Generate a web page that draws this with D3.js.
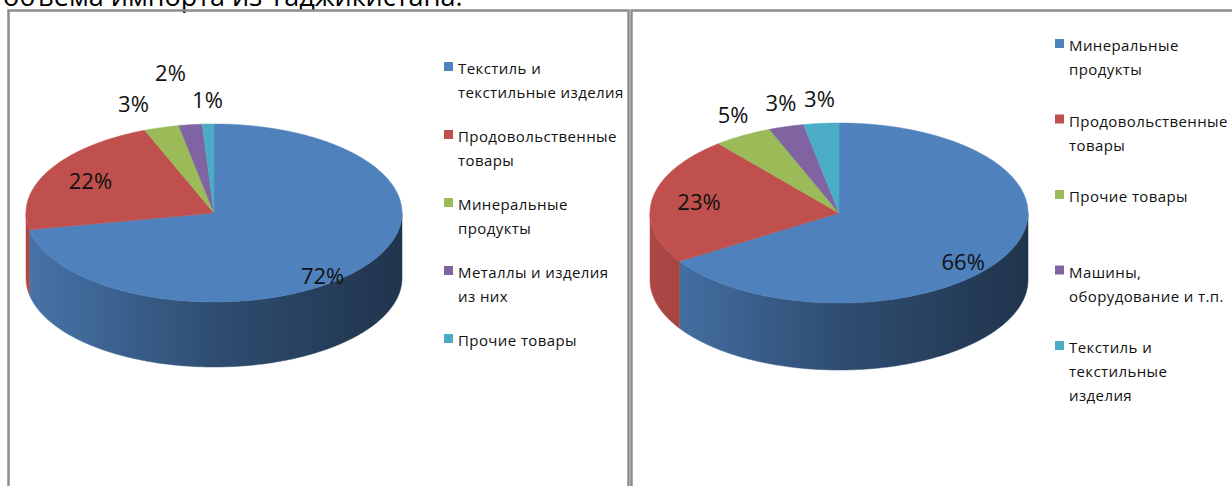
<!DOCTYPE html>
<html>
<head>
<meta charset="utf-8">
<script src="https://cdn.jsdelivr.net/npm/d3@7"></script>
<style>
  body { margin: 0; background: #fff; }
  svg { display: block; }
</style>
</head>
<body>
<svg id="chart" width="1232" height="486"></svg>
<script>

// data
var pageTitle = 'объема импорта из Таджикистана.';

var leftLegend = [
    ['Текстиль и', 'текстильные изделия'],
    ['Продовольственные', 'товары'],
    ['Минеральные', 'продукты'],
    ['Металлы и изделия', 'из них'],
    ['Прочие товары']
];
var leftValues = [72, 22, 3, 2, 1];

var rightLegend = [
    ['Минеральные', 'продукты'],
    ['Продовольственные', 'товары'],
    ['Прочие товары'],
    ['Машины,', 'оборудование и т.п.'],
    ['Текстиль и', 'текстильные', 'изделия']
];
var rightValues = [66, 23, 5, 3, 3];

var sliceColors = ['#4F81BD', '#C0504D', '#9BBB59', '#8064A2', '#4BACC6'];


var svg = d3.select('#chart');
var defs = svg.append('defs');

// caption line above the charts, cut off by the page top like in the scan
svg.append('text')
    .attr('x', 3)
    .attr('y', 6)
    .attr('font-family', 'Open Sans')
    .attr('font-size', 27)
    .attr('fill', '#000')
    .text(pageTitle);

// chart frames
svg.append('rect')
    .attr('x', 8.5).attr('y', 10.5)
    .attr('width', 620).attr('height', 600)
    .attr('fill', 'none').attr('stroke', '#8c8c8c').attr('stroke-width', 2.5);

svg.append('rect')
    .attr('x', 631.5).attr('y', 10.5)
    .attr('width', 700).attr('height', 600)
    .attr('fill', 'none').attr('stroke', '#8c8c8c').attr('stroke-width', 2.5);


drawPie({
    id: 'l',
    values: leftValues,
    legend: leftLegend,
    cx: 214, cy: 213, rx: 188, ry: 89, depth: 65,
    legendX: 444, legendY: 74, legendStep: 68
});

drawPie({
    id: 'r',
    values: rightValues,
    legend: rightLegend,
    cx: 839, cy: 213, rx: 189, ry: 90, depth: 67,
    legendX: 1055, legendY: 51, legendStep: 75.5
});


function drawPie(o) {
    var g = svg.append('g').attr('class', 'pie-' + o.id);

    var pie = d3.pie().sort(null).startAngle(0).endAngle(2 * Math.PI);
    var arcs = pie(o.values);

    // angle measured clockwise from 12 o'clock, like d3.pie
    function pt(a, k, dy) {
        return [o.cx + o.rx * k * Math.sin(a), o.cy - o.ry * k * Math.cos(a) + (dy || 0)];
    }
    function arcPoints(a0, a1, dy) {
        var n = Math.max(2, Math.ceil(Math.abs(a1 - a0) / 0.01));
        return d3.range(n + 1).map(function (i) {
            return pt(a0 + (a1 - a0) * i / n, 1, dy);
        });
    }

    // shaded gradient for the cylinder wall
    sliceColors.forEach(function (c, i) {
        var base = d3.rgb(c);
        var grad = defs.append('linearGradient')
            .attr('id', 'side-' + o.id + '-' + i)
            .attr('gradientUnits', 'userSpaceOnUse')
            .attr('x1', o.cx - o.rx).attr('x2', o.cx + o.rx)
            .attr('y1', 0).attr('y2', 0);
        [[0, 0.9], [0.5, 0.6], [1, 0.4]].forEach(function (s) {
            var k = s[1];
            grad.append('stop')
                .attr('offset', s[0])
                .attr('stop-color', d3.rgb(base.r * k, base.g * k, base.b * k));
        });
    });

    // front walls (only the lower half of the ellipse is visible)
    var line = d3.line();
    arcs.forEach(function (d, i) {
        var a0 = Math.max(d.startAngle, Math.PI / 2);
        var a1 = Math.min(d.endAngle, 3 * Math.PI / 2);
        if (a1 <= a0) return;
        var top = arcPoints(a0, a1, 0);
        var bottom = arcPoints(a1, a0, o.depth);
        g.append('path')
            .attr('class', 'side')
            .attr('d', line(top.concat(bottom)) + 'Z')
            .attr('fill', 'url(#side-' + o.id + '-' + i + ')')
            .attr('stroke', 'url(#side-' + o.id + '-' + i + ')')
            .attr('stroke-width', 0.5);
    });

    // top faces
    arcs.forEach(function (d, i) {
        var pts = [[o.cx, o.cy]].concat(arcPoints(d.startAngle, d.endAngle, 0));
        g.append('path')
            .attr('class', 'slice')
            .attr('d', line(pts) + 'Z')
            .attr('fill', sliceColors[i])
            .attr('stroke', sliceColors[i])
            .attr('stroke-width', 0.5);
    });

    // data labels: big slices inside, small ones outside, spread to the left
    var total = d3.sum(o.values);
    var prev = null;
    var labels = arcs.map(function (d, i) {
        var mid = (d.startAngle + d.endAngle) / 2;
        var inside = d.value / total >= 0.1;
        var p;
        if (inside) {
            p = pt(mid, 0.75, o.depth * Math.max(0, -Math.cos(mid)) * 0.5);
        } else {
            p = [o.cx + o.rx * 1.1 * Math.sin(mid), o.cy - o.ry * 1.27 * Math.cos(mid)];
        }
        return { x: p[0], y: p[1], inside: inside, text: Math.round(d.value / total * 100) + '%' };
    });
    for (var i = labels.length - 1; i >= 0; i--) {
        var lb = labels[i];
        if (lb.inside) continue;
        lb.raised = false;
        if (prev && lb.x > prev.x - 37) {
            lb.x = prev.x - 37;
            if (!prev.raised) {
                lb.y -= 28;
                lb.raised = true;
            }
        }
        prev = lb;
    }

    g.selectAll('.label')
        .data(labels)
        .enter().append('text')
        .attr('class', 'label')
        .attr('x', function (d) { return d.x; })
        .attr('y', function (d) { return d.y; })
        .attr('dy', '0.36em')
        .attr('text-anchor', 'middle')
        .attr('font-family', 'Open Sans')
        .attr('font-size', 22)
        .attr('fill', '#111')
        .text(function (d) { return d.text; });

    // legend
    var items = g.selectAll('.legend-item')
        .data(o.legend)
        .enter().append('g')
        .attr('class', 'legend-item')
        .attr('transform', function (d, i) {
            return 'translate(' + o.legendX + ',' + (o.legendY + i * o.legendStep) + ')';
        });

    items.append('rect')
        .attr('x', 0).attr('y', -12)
        .attr('width', 9).attr('height', 9)
        .attr('fill', function (d, i) { return sliceColors[i]; });

    items.append('text')
        .attr('font-family', 'Open Sans')
        .attr('font-size', 15)
        .attr('letter-spacing', 0.4)
        .attr('fill', '#111')
        .selectAll('tspan')
        .data(function (d) { return d; })
        .enter().append('tspan')
        .attr('x', 14)
        .attr('y', function (d, j) { return j * 24; })
        .text(function (d) { return d; });
}

</script>
</body>
</html>
